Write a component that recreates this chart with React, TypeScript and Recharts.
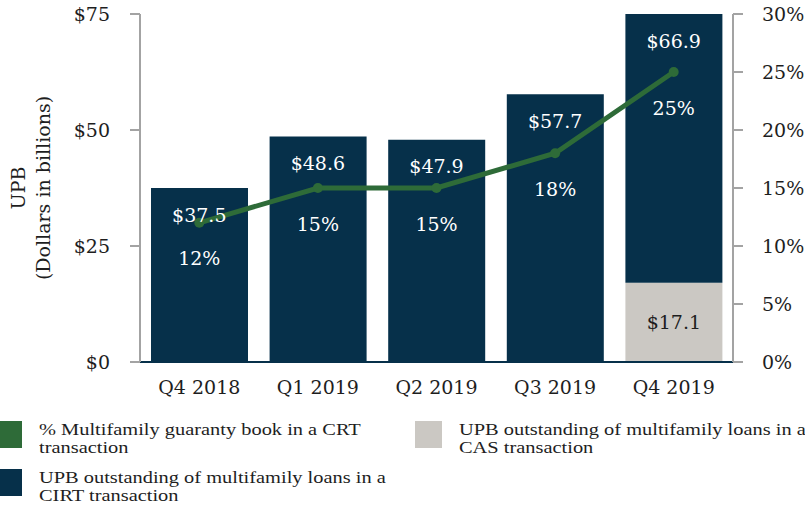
import React from "react"
import { ComposedChart, Bar, Line, XAxis, YAxis, LabelList } from "recharts"

const quarters = ["Q4 2018", "Q1 2019", "Q2 2019", "Q3 2019", "Q4 2019"]
const cirtUpb = [37.5, 48.6, 47.9, 57.7, 66.9]
const casUpb = [0, 0, 0, 0, 17.1]
const crtShare = [12, 15, 15, 18, 25]
const dollarTicks = [0, 25, 50, 75]
const percentTicks = [0, 5, 10, 15, 20, 25, 30]

const NAVY = "#06304a"
const GREEN = "#2e6b38"
const GRAY = "#cbc8c3"
const AXIS = "#a3a3a3"
const INK = "#1e1e1e"
const SERIF = "'DejaVu Serif', Georgia, serif"
const LEGEND_FONT = "'Liberation Serif', 'Times New Roman', serif"

const DOLLAR_MAX = 75

const data = quarters.map((q, i) => ({
  quarter: q,
  cirt: cirtUpb[i],
  cas: casUpb[i],
  share: crtShare[i],
  // visible top of the stacked bar (clipped at the axis max)
  top: Math.min(cirtUpb[i] + casUpb[i], DOLLAR_MAX),
}))

const ValueLabel = (props: any) => {
  const { x, y, value } = props
  return (
    <text x={x} y={y + 27} dy="0.35em" textAnchor="middle" fill="#fff" fontSize={19} fontFamily={SERIF}>
      {"$" + Number(value).toFixed(1)}
    </text>
  )
}

const ShareLabel = (props: any) => {
  const { x, y, value } = props
  return (
    <text x={x} y={y + 36} dy="0.35em" textAnchor="middle" fill="#fff" fontSize={19} fontFamily={SERIF}>
      {value + "%"}
    </text>
  )
}

const CasLabel = (props: any) => {
  const { x, y, width, height, value } = props
  if (!value) return null
  return (
    <text x={x + width / 2} y={y + height / 2} dy="0.35em" textAnchor="middle" fill={INK} fontSize={19} fontFamily={SERIF}>
      {"$" + Number(value).toFixed(1)}
    </text>
  )
}

const legendItems = [
  { color: GREEN, lines: ["% Multifamily guaranty book in a CRT", "transaction"], left: -5, top: 421 },
  { color: GRAY, lines: ["UPB outstanding of multifamily loans in a", "CAS transaction"], left: 415, top: 421 },
  { color: NAVY, lines: ["UPB outstanding of multifamily loans in a", "CIRT transaction"], left: -5, top: 469 },
]

export default function App() {
  return (
    <div style={{ position: "absolute", left: 0, top: 0, width: 805, height: 511, background: "#fff", overflow: "hidden" }}>
      <ComposedChart width={805} height={400} data={data} margin={{ top: 14, right: 0, bottom: 8, left: 0 }}>
        <XAxis
          dataKey="quarter"
          height={30}
          tickLine={false}
          tickSize={0}
          tickMargin={19}
          axisLine={{ stroke: NAVY, strokeWidth: 2 }}
          tick={{ fill: INK, fontSize: 19, fontFamily: SERIF }}
        />
        <YAxis
          yAxisId="left"
          width={140}
          domain={[0, DOLLAR_MAX]}
          ticks={dollarTicks}
          allowDataOverflow
          tickSize={10}
          tickMargin={20}
          tickFormatter={(v) => "$" + v}
          axisLine={{ stroke: AXIS, strokeWidth: 2 }}
          tickLine={{ stroke: AXIS, strokeWidth: 2 }}
          tick={{ fill: INK, fontSize: 19, fontFamily: SERIF }}
          label={() => (
            <text transform="translate(25,188) rotate(-90)" textAnchor="middle" fill={INK} fontSize={19} fontFamily={SERIF}>
              <tspan x={0} y={0}>UPB</tspan>
              <tspan x={0} y={25}>(Dollars in billions)</tspan>
            </text>
          )}
        />
        <YAxis
          yAxisId="right"
          orientation="right"
          width={72}
          domain={[0, 30]}
          ticks={percentTicks}
          tickSize={10}
          tickMargin={19}
          tickFormatter={(v) => v + "%"}
          axisLine={{ stroke: AXIS, strokeWidth: 2 }}
          tickLine={{ stroke: AXIS, strokeWidth: 2 }}
          tick={{ fill: INK, fontSize: 19, fontFamily: SERIF, textAnchor: "start" }}
        />
        <Bar yAxisId="left" dataKey="cas" stackId="upb" fill={GRAY} barSize={97} isAnimationActive={false}>
          <LabelList dataKey="cas" content={CasLabel} />
        </Bar>
        <Bar yAxisId="left" dataKey="cirt" stackId="upb" fill={NAVY} barSize={97} isAnimationActive={false} />
        <Line
          yAxisId="right"
          dataKey="share"
          type="linear"
          stroke={GREEN}
          strokeWidth={5}
          dot={{ r: 5, fill: GREEN, stroke: GREEN, strokeWidth: 0 }}
          activeDot={false}
          isAnimationActive={false}
        >
          <LabelList dataKey="share" content={ShareLabel} />
        </Line>
        <Line
          yAxisId="left"
          dataKey="top"
          stroke="none"
          dot={false}
          activeDot={false}
          isAnimationActive={false}
        >
          <LabelList dataKey="cirt" content={ValueLabel} />
        </Line>
      </ComposedChart>
      {legendItems.map((item) => (
        <div key={item.lines[1]} style={{ position: "absolute", left: item.left, top: item.top }}>
          <div style={{ position: "absolute", left: 0, top: 0, width: 27, height: 27, background: item.color }} />
          <div
            style={{
              position: "absolute",
              left: 44,
              top: 0,
              whiteSpace: "nowrap",
              fontFamily: LEGEND_FONT,
              fontSize: 17,
              lineHeight: "18px",
              color: INK,
              transform: "scaleX(1.2)",
              transformOrigin: "0 0",
            }}
          >
            {item.lines[0]}
            <br />
            {item.lines[1]}
          </div>
        </div>
      ))}
    </div>
  )
}
